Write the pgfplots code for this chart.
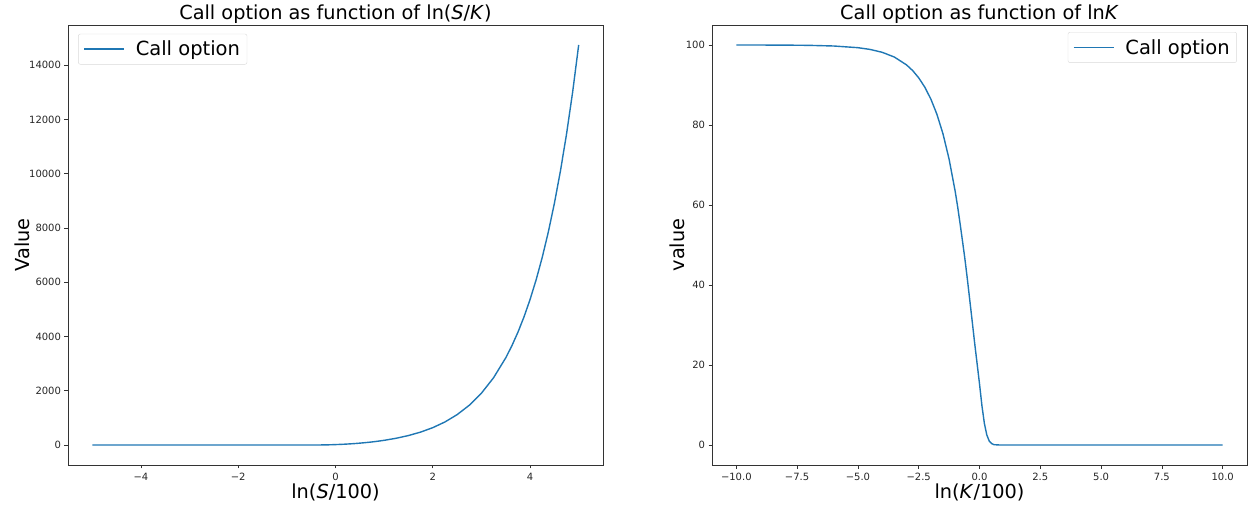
\documentclass[border=0pt]{standalone}
\usepackage{fontspec}
\setmainfont{DejaVu Sans}
\usepackage{pgfplots}
\pgfplotsset{compat=1.18}
\definecolor{mplblue}{HTML}{1F77B4}
\pgfplotsset{
  mystyle/.style={
    width=535pt, height=440pt, scale only axis,
    axis line style={line width=0.8pt, black!80},
    every tick/.style={black!80, line width=0.8pt},
    tick align=outside, tick pos=left, major tick length=3.5pt,
    ticklabel style={font=\fontsize{10}{11}\selectfont, text=black!85},
    xticklabel style={yshift=-1pt},
    label style={font=\fontsize{19.3}{21}\selectfont},
    title style={font=\fontsize{19.3}{21}\selectfont, at={(axis description cs:0.5,1)}, anchor=base, yshift=-1pt},
    legend style={font=\fontsize{19.5}{21}\selectfont, draw=black!15, rounded corners=2pt, inner xsep=5pt, inner ysep=5pt},
    legend cell align=left,
    legend image code/.code={\draw[mplblue, line width=1.4pt] (0pt,0pt) -- (40pt,0pt);},
    /pgf/number format/assume math mode=true,
    /pgf/number format/1000 sep={},
    scaled ticks=false,
    xlabel style={at={(axis description cs:0.5,-0.042)}, anchor=north, inner sep=0pt},
  }
}
\begin{document}
\begin{tikzpicture}
\begin{axis}[mystyle, name=l, at={(0pt,0pt)}, anchor=south west,
  xmin=-5.5, xmax=5.5, ymin=-737, ymax=15479,
  xtick={-4,-2,0,2,4}, xticklabels={−4,−2,0,2,4},
  ytick={0,2000,4000,6000,8000,10000,12000,14000},
  title={Call option as function of ln(\textit{S}/\textit{K})},
  xlabel={ln(\textit{S}/100)},
  ylabel={Value},
  ylabel style={at={(axis description cs:-0.071,0.5)}, anchor=south, inner sep=0pt},
  legend style={at={(0.019,0.98)}, anchor=north west},
]
\addplot[mplblue, line width=1.4pt] coordinates {
(-5,0) (-4,0) (-3,0) (-2,0) (-1,0) (-0.8,0.002) (-0.6,0.04) (-0.5,0.21) (-0.4,0.67)
(-0.3,1.85) (-0.2,4.42) (-0.1,8.87) (0,15.3) (0.1,22.5) (0.2,31.1) (0.3,41.7) (0.4,54.0)
(0.5,68.4) (0.6,84.7) (0.7,102.7) (0.8,123.3) (0.9,146.6) (1,172.3) (1.25,249.4) (1.5,348.5)
(1.75,475.6) (2,639.1) (2.25,848.8) (2.5,1118.3) (2.75,1464.0) (3,1908.6) (3.25,2479)
(3.5,3211.7) (3.625,3652) (3.75,4152) (3.875,4718) (4,5360.1) (4.125,6087) (4.25,6911)
(4.375,7844) (4.5,8902) (4.625,10100) (4.75,11458) (4.875,12997) (5,14742)
};
\addlegendentry{\hspace{9pt}Call option}
\end{axis}
\begin{axis}[mystyle, name=r, at={(644pt,0pt)}, anchor=south west,
  xmin=-11, xmax=11, ymin=-5, ymax=105,
  xtick={-10,-7.5,-5,-2.5,0,2.5,5,7.5,10},
  xticklabels={−10.0,−7.5,−5.0,−2.5,0.0,2.5,5.0,7.5,10.0},
  ytick={0,20,40,60,80,100},
  title={Call option as function of ln\textit{K}},
  xlabel={ln(\textit{K}/100)},
  ylabel={value},
  ylabel style={at={(axis description cs:-0.05,0.5)}, anchor=south, inner sep=0pt},
  legend style={at={(0.981,0.984)}, anchor=north east},
]
\addplot[mplblue, line width=1.4pt] coordinates {
(-10,100) (-9,99.99) (-8,99.97) (-7,99.91) (-6,99.75) (-5,99.33) (-4.5,98.89) (-4,98.17)
(-3.5,96.98) (-3,95.02) (-2.75,93.61) (-2.5,91.79) (-2.25,89.46) (-2,86.47) (-1.75,82.65)
(-1.5,77.75) (-1.25,71.45) (-1,63.4) (-0.9,59.6) (-0.8,55.4) (-0.7,51.0) (-0.6,46.5)
(-0.5,41.5) (-0.4,36.2) (-0.3,30.9) (-0.2,25.5) (-0.1,20.4) (0,15.3) (0.1,9.8) (0.2,5.4)
(0.3,2.5) (0.4,1.0) (0.5,0.35) (0.6,0.08) (0.8,0.01) (1,0) (2,0) (3,0) (4,0) (5,0) (6,0)
(7,0) (8,0) (9,0) (10,0)
};
\addlegendentry{\hspace{9pt}Call option}
\end{axis}
\pgfresetboundingbox
\path[use as bounding box] (-68pt,-43pt) rectangle (1181pt,465pt);
\end{tikzpicture}
\end{document}
